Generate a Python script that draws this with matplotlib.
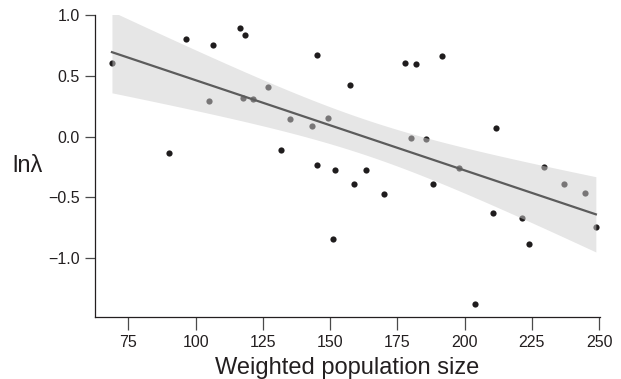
import numpy as np
import matplotlib
matplotlib.use("Agg")
import matplotlib.pyplot as plt

plt.rcParams["font.family"] = ["Liberation Sans", "DejaVu Sans"]

# Data
pop_size = [68.9, 90.1, 96.3, 105.1, 106.4, 116.4, 118.4, 117.6, 121.3, 126.8,
            131.6, 135.0, 143.2, 145.0, 145.0, 149.4, 151.0, 151.7, 157.4, 159.0,
            163.2, 169.9, 177.8, 180.0, 181.8, 185.6, 188.2, 191.6, 197.8, 203.7,
            210.5, 211.8, 221.5, 223.8, 229.4, 236.8, 244.9, 248.8]
ln_lambda = [0.609, -0.132, 0.807, 0.294, 0.752, 0.892, 0.837, 0.316, 0.310, 0.409,
             -0.112, 0.143, 0.086, 0.672, -0.233, 0.151, -0.842, -0.274, 0.426, -0.392,
             -0.272, -0.474, 0.604, -0.013, 0.598, -0.016, -0.387, 0.664, -0.260, -1.377,
             -0.630, 0.074, -0.667, -0.886, -0.247, -0.389, -0.461, -0.746]

x_ticks = [75, 100, 125, 150, 175, 200, 225, 250]
y_ticks = [-1.0, -0.5, 0.0, 0.5, 1.0]
y_tick_labels = ["\u22121.0", "\u22120.5", "0.0", "0.5", "1.0"]

x = np.array(pop_size)
y = np.array(ln_lambda)

# Linear fit with 95% confidence band
slope, intercept = np.polyfit(x, y, 1)
n = len(x)
resid = y - (slope * x + intercept)
s = np.sqrt(np.sum(resid ** 2) / (n - 2))
xs = np.linspace(x.min(), x.max(), 200)
fit = slope * xs + intercept
se = s * np.sqrt(1 / n + (xs - x.mean()) ** 2 / np.sum((x - x.mean()) ** 2))
t_val = 2.028
lower = fit - t_val * se
upper = fit + t_val * se

fig = plt.figure(figsize=(6.21, 3.79), dpi=100)
ax = fig.add_axes([0.153, 0.163, 0.813, 0.797])

# points first, the band goes over them so the ones inside look grey
ax.scatter(x, y, s=20, color="#1f1c1d", zorder=2, linewidths=0)
ax.fill_between(xs, lower, upper, color="#cecece", alpha=0.51, linewidth=0, zorder=3)
ax.plot(xs, fit, color="#5c5c5c", linewidth=1.6, zorder=4)

ax.set_xlim(62.6, 250.3)
ax.set_ylim(-1.486, 1.0)
ax.set_xticks(x_ticks)
ax.set_yticks(y_ticks)
ax.set_yticklabels(y_tick_labels)

for side in ["top", "right"]:
    ax.spines[side].set_visible(False)
for side in ["left", "bottom"]:
    ax.spines[side].set_color("#231f20")
    ax.spines[side].set_linewidth(0.9)

ax.tick_params(axis="both", direction="out", width=0.9, color="#4a4a4a",
               labelsize=11.5, labelcolor="#231f20", pad=3.5)
ax.tick_params(axis="x", length=9)
ax.tick_params(axis="y", length=7.5)

ax.set_xlabel("Weighted population size", fontsize=17, color="#231f20", labelpad=5)
ax.set_ylabel("ln\u03bb", fontsize=17, color="#231f20", rotation=0,
              ha="right", va="center", labelpad=4)

plt.savefig("out.png", dpi=100)
plt.close()
